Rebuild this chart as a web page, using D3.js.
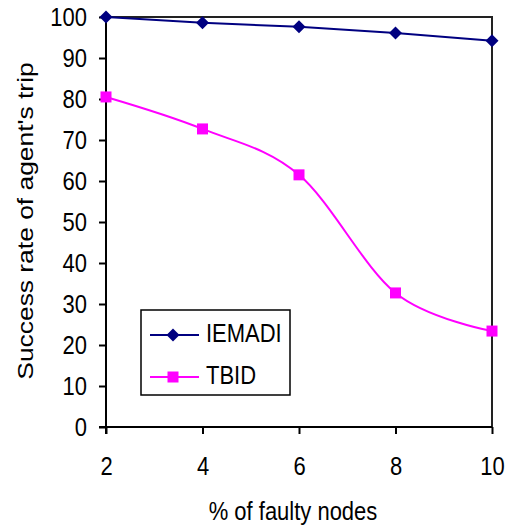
<!DOCTYPE html>
<html>
<head>
    <script src="https://cdnjs.cloudflare.com/ajax/libs/d3/7.8.5/d3.min.js"></script>
    <style>
        body { margin: 0; background: #fff; font-family: "Liberation Sans", Arial, sans-serif; }
    </style>
</head>
<body>
<svg id="chart" width="508" height="526"></svg>
<script>
    // data
    const faultyNodes = [2, 4, 6, 8, 10];
    const iemadi = [100, 98.6, 97.6, 96.1, 94.2];
    const tbid = [80.5, 72.7, 61.5, 32.7, 23.4];
    const yTicks = [0, 10, 20, 30, 40, 50, 60, 70, 80, 90, 100];

    const svg = d3.select("#chart");
    const plotLeft = 106, plotRight = 492, plotTop = 17, plotBottom = 427;
    const fontSize = 22;
    const stretch = 1.2; // text in the original is a bit taller than wide

    const x = d3.scaleLinear().domain([2, 10]).range([plotLeft, plotRight]);
    const y = d3.scaleLinear().domain([0, 100]).range([plotBottom, plotTop]);

    // plot frame (top and right)
    svg.append("path")
        .attr("d", `M${plotLeft},${plotTop}H${plotRight}V${plotBottom}`)
        .attr("fill", "none")
        .attr("stroke", "#222")
        .attr("stroke-width", 2);

    // y axis
    const yAxis = svg.append("g")
        .attr("transform", `translate(${plotLeft},0)`)
        .call(d3.axisLeft(y).tickValues(yTicks).tickSize(7).tickSizeOuter(0));
    // x axis
    const xAxis = svg.append("g")
        .attr("transform", `translate(0,${plotBottom})`)
        .call(d3.axisBottom(x).tickValues(faultyNodes).tickSize(7).tickSizeOuter(0));

    [yAxis, xAxis].forEach(g => {
        g.select(".domain").attr("stroke", "#000").attr("stroke-width", 2);
        g.selectAll(".tick line").attr("stroke", "#000").attr("stroke-width", 2);
        g.selectAll(".tick text")
            .attr("fill", "#000")
            .style("font-family", "'Liberation Sans', Arial, sans-serif")
            .style("font-size", fontSize + "px");
    });
    yAxis.selectAll(".tick text")
        .attr("x", 0)
        .attr("transform", `translate(-19,0) scale(1,${stretch})`);
    xAxis.selectAll(".tick text")
        .attr("y", 0)
        .attr("transform", `translate(0,29) scale(1,${stretch})`);

    // axis lines cross a little at the origin
    yAxis.select(".domain").attr("d", `M0,${plotTop}V${plotBottom + 7}`);
    xAxis.select(".domain").attr("d", `M${plotLeft - 7},0H${plotRight}`);

    // axis titles
    svg.append("text")
        .attr("transform", `translate(293,520) scale(1,${stretch})`)
        .attr("text-anchor", "middle")
        .style("font-size", fontSize + "px")
        .text("% of faulty nodes");

    svg.append("text")
        .attr("transform", `translate(33,221) scale(1,${stretch}) rotate(-90)`)
        .attr("text-anchor", "middle")
        .style("font-size", fontSize + "px")
        .text("Success rate of agent's trip");

    const series = [
        { name: "IEMADI", values: iemadi, color: "#000080", shape: d3.symbolSquare, size: 85, rotate: 45, curve: d3.curveLinear },
        { name: "TBID", values: tbid, color: "#FF00FF", shape: d3.symbolSquare, size: 121, rotate: 0, curve: d3.curveCatmullRom.alpha(0) }
    ];

    series.forEach(s => {
        const line = d3.line()
            .x((d, i) => x(faultyNodes[i]))
            .y(d => y(d))
            .curve(s.curve);
        svg.append("path")
            .datum(s.values)
            .attr("d", line)
            .attr("fill", "none")
            .attr("stroke", s.color)
            .attr("stroke-width", 2);
        svg.selectAll(null)
            .data(s.values)
            .join("path")
            .attr("transform", (d, i) => `translate(${x(faultyNodes[i])},${y(d)}) rotate(${s.rotate})`)
            .attr("d", d3.symbol(s.shape, s.size))
            .attr("fill", s.color);
    });

    // legend
    const legend = svg.append("g").attr("transform", "translate(141,310)");
    legend.append("rect")
        .attr("width", 149)
        .attr("height", 85)
        .attr("fill", "#fff")
        .attr("stroke", "#000")
        .attr("stroke-width", 1.5);
    series.forEach((s, i) => {
        const ly = 25 + i * 42;
        legend.append("line")
            .attr("x1", 9).attr("x2", 58)
            .attr("y1", ly).attr("y2", ly)
            .attr("stroke", s.color).attr("stroke-width", 2);
        legend.append("path")
            .attr("transform", `translate(32,${ly}) rotate(${s.rotate})`)
            .attr("d", d3.symbol(s.shape, s.size))
            .attr("fill", s.color);
        legend.append("text")
            .attr("transform", `translate(65,${ly + 7}) scale(1,${stretch})`)
            .style("font-size", fontSize + "px")
            .text(s.name);
    });
</script>
</body>
</html>
